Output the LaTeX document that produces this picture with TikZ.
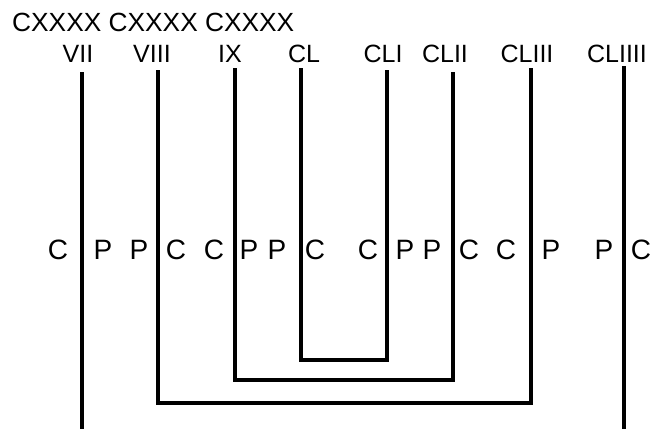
\documentclass[tikz,border=0pt]{standalone}
\usepackage{fontspec}
\setmainfont{Liberation Sans}
\begin{document}
\begin{tikzpicture}[x=1pt,y=-1pt,
  ttl/.style={inner sep=0pt,anchor=base west,font=\fontsize{26.3}{30}\selectfont},
  lbl/.style={inner sep=0pt,anchor=base,font=\fontsize{25}{30}\selectfont},
  mk/.style={inner sep=0pt,anchor=base,font=\fontsize{28}{32}\selectfont},
  wire/.style={line width=4.5pt,line join=miter,line cap=butt,black}]
\useasboundingbox (0,0) rectangle (658,428);
% title
\node[ttl] (title) at (12,32) {CXXXX CXXXX CXXXX};
% column labels
\node[lbl] (l1) at (78,63) {VII};
\node[lbl] (l2) at (152,63) {VIII};
\node[lbl] (l3) at (230,63) {IX};
\node[lbl] (l4) at (304,63) {CL};
\node[lbl] (l5) at (383,63) {CLI};
\node[lbl] (l6) at (445,63) {CLII};
\node[lbl] (l7) at (527,63) {CLIII};
\node[lbl] (l8) at (617,63) {CLIIII};
% line tops
\coordinate (t1) at (82,72);
\coordinate (t2) at (158,70);
\coordinate (t3) at (235,68);
\coordinate (t4) at (301,68);
\coordinate (t5) at (387,70);
\coordinate (t6) at (453,72);
\coordinate (t7) at (531,68);
\coordinate (t8) at (624,66);
% bracket bottoms
\coordinate (b4) at (301,360);
\coordinate (b3) at (235,380);
\coordinate (b2) at (158,403);
\coordinate (b1) at (82,432);
% brackets
\draw[wire] (t4) -- (b4) -| (t5);
\draw[wire] (t3) -- (b3) -| (t6);
\draw[wire] (t2) -- (b2) -| (t7);
\draw[wire] (t1) -- (b1) -| (t8);
% C / P marks
\node[mk] (m1) at (58,259) {C};
\node[mk] (m2) at (103,259) {P};
\node[mk] (m3) at (139,259) {P};
\node[mk] (m4) at (176,259) {C};
\node[mk] (m5) at (214,259) {C};
\node[mk] (m6) at (249,259) {P};
\node[mk] (m7) at (277,259) {P};
\node[mk] (m8) at (315,259) {C};
\node[mk] (m9) at (368,259) {C};
\node[mk] (m10) at (405,259) {P};
\node[mk] (m11) at (432,259) {P};
\node[mk] (m12) at (469,259) {C};
\node[mk] (m13) at (506,259) {C};
\node[mk] (m14) at (551,259) {P};
\node[mk] (m15) at (604,259) {P};
\node[mk] (m16) at (641,259) {C};
\end{tikzpicture}
\end{document}
